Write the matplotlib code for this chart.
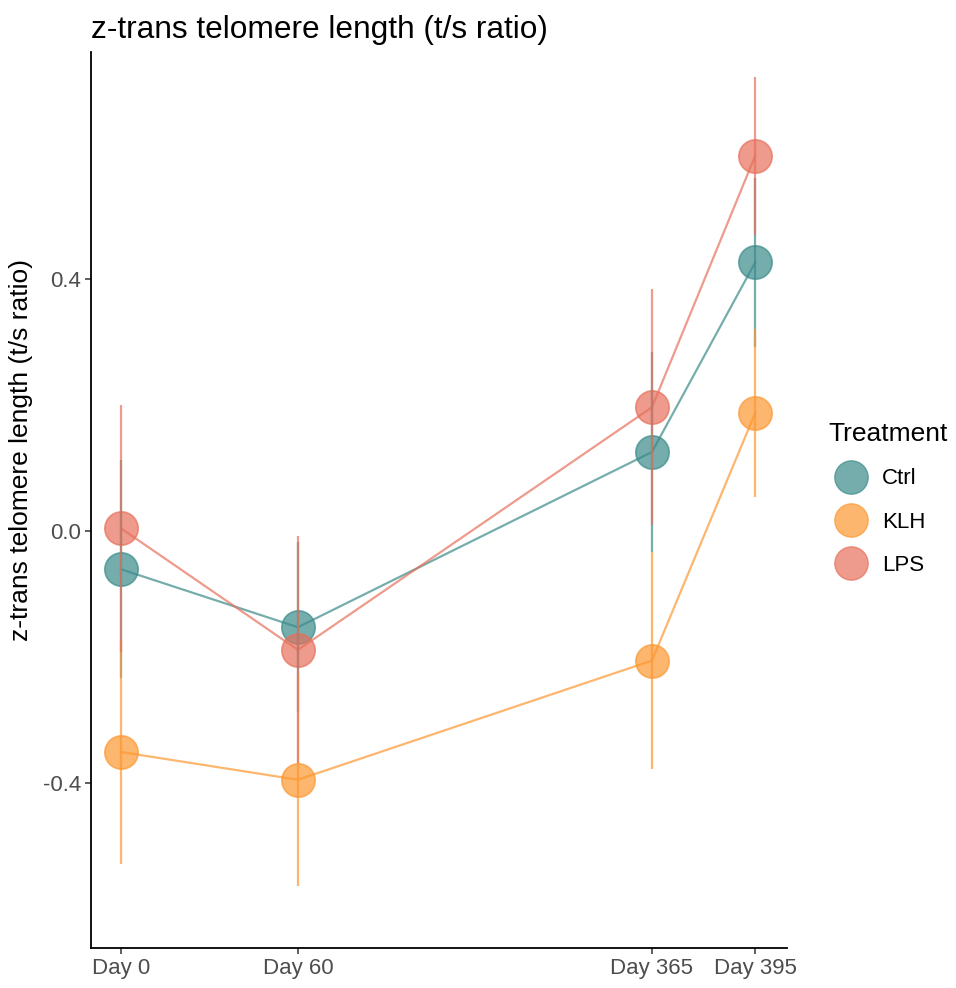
import matplotlib.pyplot as plt
from matplotlib.lines import Line2D

plt.rcParams["font.family"] = ["Liberation Sans", "DejaVu Sans"]

# time points (x spacing as plotted) and their labels
days = [0, 60, 180, 215]
day_labels = ["Day 0", "Day 60", "Day 365", "Day 395"]

groups = ["Ctrl", "KLH", "LPS"]
colors = {"Ctrl": "#3B8B8A", "KLH": "#FC9830", "LPS": "#E7705B"}

# mean z-transformed telomere length and half-width of the error bar
ctrl_mean = [-0.061, -0.153, 0.125, 0.426]
ctrl_err = [0.173, 0.135, 0.158, 0.134]
klh_mean = [-0.351, -0.395, -0.206, 0.187]
klh_err = [0.177, 0.168, 0.172, 0.133]
lps_mean = [0.004, -0.189, 0.196, 0.595]
lps_err = [0.196, 0.180, 0.187, 0.125]

means = {"Ctrl": ctrl_mean, "KLH": klh_mean, "LPS": lps_mean}
errs = {"Ctrl": ctrl_err, "KLH": klh_err, "LPS": lps_err}

fig = plt.figure(figsize=(9.56, 9.88), dpi=100)
ax = fig.add_axes([0.0952, 0.0405, 0.728, 0.907])

alpha = 0.7
for g in groups:
    c = colors[g]
    ax.plot(days, means[g], "o", ms=24, color=c, mec=c, mew=1.2,
            alpha=alpha, zorder=2)
for g in groups:
    ax.plot(days, means[g], "-", lw=1.6, color=colors[g], alpha=alpha, zorder=3)
for g in groups:
    lo = [m - e for m, e in zip(means[g], errs[g])]
    hi = [m + e for m, e in zip(means[g], errs[g])]
    ax.vlines(days, lo, hi, color=colors[g], lw=1.6, alpha=alpha, zorder=4)

ax.set_xlim(-0.169 * 60, 3.763 * 60)
ax.set_ylim(-0.662, 0.760)
ax.set_xticks(days)
ax.set_xticklabels(day_labels)
ax.set_yticks([-0.4, 0.0, 0.4])
ax.set_yticklabels(["-0.4", "0.0", "0.4"])
ax.tick_params(labelsize=16, labelcolor="#4D4D4D", color="#333333",
               length=4, width=1.1, pad=3)
for side in ("top", "right"):
    ax.spines[side].set_visible(False)
for side in ("left", "bottom"):
    ax.spines[side].set_linewidth(1.3)

ax.set_ylabel("z-trans telomere length (t/s ratio)", fontsize=19)
ax.yaxis.set_label_coords(-0.083, 0.556)
ax.set_title("z-trans telomere length (t/s ratio)", fontsize=22.8, loc="left",
             pad=10)

handles = [Line2D([], [], ls="none", marker="o", ms=24, color=colors[g],
                  mec=colors[g], alpha=alpha, label=g) for g in groups]
leg = fig.legend(handles=handles, title="Treatment", loc="upper left",
                 bbox_to_anchor=(0.8455, 0.593), frameon=False, fontsize=16,
                 title_fontsize=19, labelspacing=1.0, handletextpad=0.42,
                 alignment="left")

fig.savefig("out.png", dpi=100)
